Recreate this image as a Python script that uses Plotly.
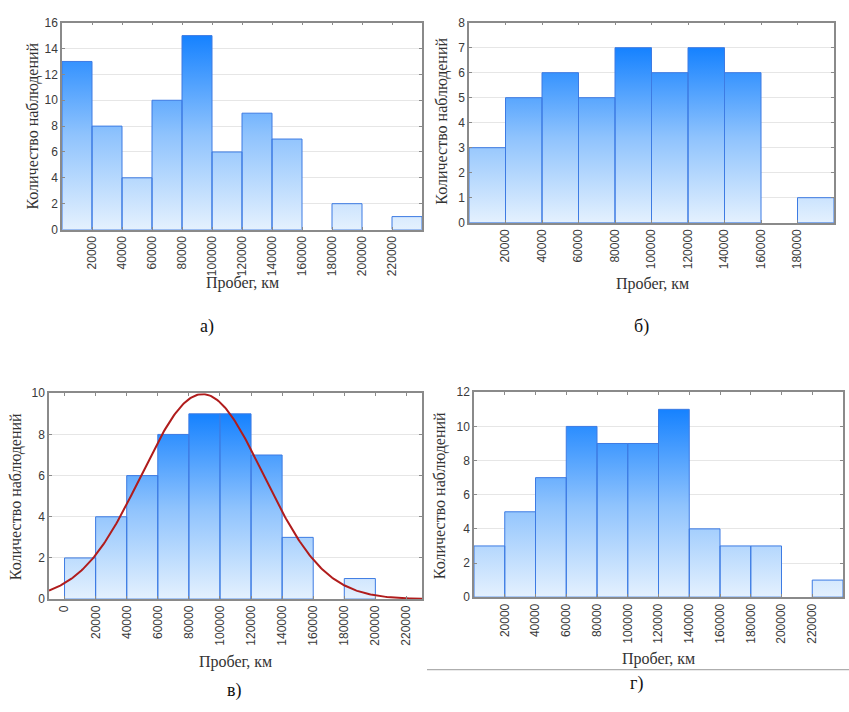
import numpy as np
import plotly.graph_objects as go

W, H = 849, 712

bin_width = 20000
counts_a = [13, 8, 4, 10, 15, 6, 9, 7, 0, 2, 0, 1]
counts_b = [3, 5, 6, 5, 7, 6, 7, 6, 0, 1]
counts_c = [2, 4, 6, 8, 9, 9, 7, 3, 0, 1]
counts_d = [3, 5, 7, 10, 9, 9, 11, 4, 3, 3, 0, 1]

ticks_a = [20000, 40000, 60000, 80000, 100000, 120000, 140000, 160000, 180000, 200000, 220000]
ticks_b = [20000, 40000, 60000, 80000, 100000, 120000, 140000, 160000, 180000]
ticks_c = [0, 20000, 40000, 60000, 80000, 100000, 120000, 140000, 160000, 180000, 200000, 220000]
ticks_d = [20000, 40000, 60000, 80000, 100000, 120000, 140000, 160000, 180000, 200000, 220000]

y_max = [16, 8, 10, 12]
x_ranges = [[0, 240000], [0, 200000], [-10000, 230000], [0, 240000]]

panel_labels = ["а)", "б)", "в)", "г)"]
y_title = "Количество наблюдений"
x_title = "Пробег, км"

# pixel boxes of plot areas: (left, top, right, bottom)
boxes = [(62, 16, 422, 227), (469, 16, 834, 220), (49, 394, 422, 604), (474, 393, 843, 602)]
ytitle_pos = [(33, 122), (442, 117), (16, 500), (440, 499)]
xtitle_pos = [(242, 282), (652, 283), (235, 668), (658, 665)]
label_pos = [(207, 326), (641, 326), (234, 697), (636, 690)]

def px(x):
    return x / W

def py(y):
    return 1 - y / H

fig = go.Figure()
panels = [counts_a, counts_b, counts_c, counts_d]
tick_sets = [ticks_a, ticks_b, ticks_c, ticks_d]

for i, counts in enumerate(panels):
    xs, ys = [], []
    for k, v in enumerate(counts):
        if v <= 0:
            continue
        x0 = k * bin_width
        x1 = x0 + bin_width
        xs += [x0, x0, x1, x1, x0, None]
        ys += [0, v, v, 0, 0, None]
    sfx = "" if i == 0 else str(i + 1)
    fig.add_trace(go.Scatter(
        x=xs, y=ys, mode="lines", fill="toself",
        line=dict(color="#3D7BE3", width=1),
        fillgradient=dict(type="vertical",
                          colorscale=[[0, "#E8F3FE"], [0.5, "#8FC3FD"], [1, "#1682FF"]],
                          start=0, stop=max(counts)),
        xaxis="x" + sfx, yaxis="y" + sfx, showlegend=False, hoverinfo="skip"))

# normal fit for panel c, from the histogram data
mids = np.arange(len(counts_c)) * bin_width + bin_width / 2
cc = np.array(counts_c, dtype=float)
N = cc.sum()
mean = (mids * cc).sum() / N
sd = np.sqrt((cc * (mids - mean) ** 2).sum() / N)
xc = np.linspace(x_ranges[2][0], x_ranges[2][1], 300)
yc = N * bin_width / (sd * np.sqrt(2 * np.pi)) * np.exp(-0.5 * ((xc - mean) / sd) ** 2)
fig.add_trace(go.Scatter(x=xc, y=yc, mode="lines", line=dict(color="#B01C1C", width=2),
                         xaxis="x3", yaxis="y3", showlegend=False, hoverinfo="skip"))

axis_font = dict(family="Liberation Sans, Arial, sans-serif", size=12, color="#3A3A3A")
serif = "Liberation Serif, Times New Roman, serif"
layout = dict(width=W, height=H, margin=dict(l=0, r=0, t=0, b=0),
              paper_bgcolor="white", plot_bgcolor="white", showlegend=False)
annotations = []
for i in range(4):
    l, t, r, b = boxes[i]
    sfx = "" if i == 0 else str(i + 1)
    layout["xaxis" + sfx] = dict(
        domain=[px(l), px(r)], range=x_ranges[i], anchor="y" + sfx,
        tickvals=tick_sets[i], ticktext=[str(v) for v in tick_sets[i]],
        tickangle=-90, tickfont=axis_font, showgrid=False, zeroline=False,
        showline=True, linecolor="#8A8A8A", linewidth=1.5, mirror="ticks",
        ticks="inside", ticklen=3, tickcolor="#8A8A8A")
    layout["yaxis" + sfx] = dict(
        domain=[py(b), py(t)], range=[0, y_max[i]], anchor="x" + sfx,
        dtick=(1 if y_max[i] <= 8 else 2), tickfont=axis_font,
        showgrid=True, gridcolor="#E6E6E6", gridwidth=1, zeroline=False,
        showline=True, linecolor="#8A8A8A", linewidth=1.5, mirror="ticks",
        ticks="inside", ticklen=3, tickcolor="#8A8A8A")
    annotations.append(dict(x=px(ytitle_pos[i][0]), y=py(ytitle_pos[i][1]), xref="paper", yref="paper",
                            text=y_title, textangle=-90, showarrow=False,
                            font=dict(family=serif, size=16, color="#333333"),
                            xanchor="center", yanchor="middle"))
    annotations.append(dict(x=px(xtitle_pos[i][0]), y=py(xtitle_pos[i][1]), xref="paper", yref="paper",
                            text=x_title, showarrow=False,
                            font=dict(family=serif, size=16, color="#333333"),
                            xanchor="center", yanchor="middle"))
    annotations.append(dict(x=px(label_pos[i][0]), y=py(label_pos[i][1]), xref="paper", yref="paper",
                            text=panel_labels[i], showarrow=False,
                            font=dict(family=serif, size=18, color="#111111"),
                            xanchor="center", yanchor="middle"))
layout["annotations"] = annotations
layout["shapes"] = [dict(type="line", xref="paper", yref="paper", x0=px(427), x1=1.0,
                         y0=py(676), y1=py(676), line=dict(color="#9A9A9A", width=1))]
fig.update_layout(**layout)
fig.write_html("out.html", config={"displayModeBar": False},
               post_script="document.body.style.margin='0';document.body.style.overflow='hidden';")
